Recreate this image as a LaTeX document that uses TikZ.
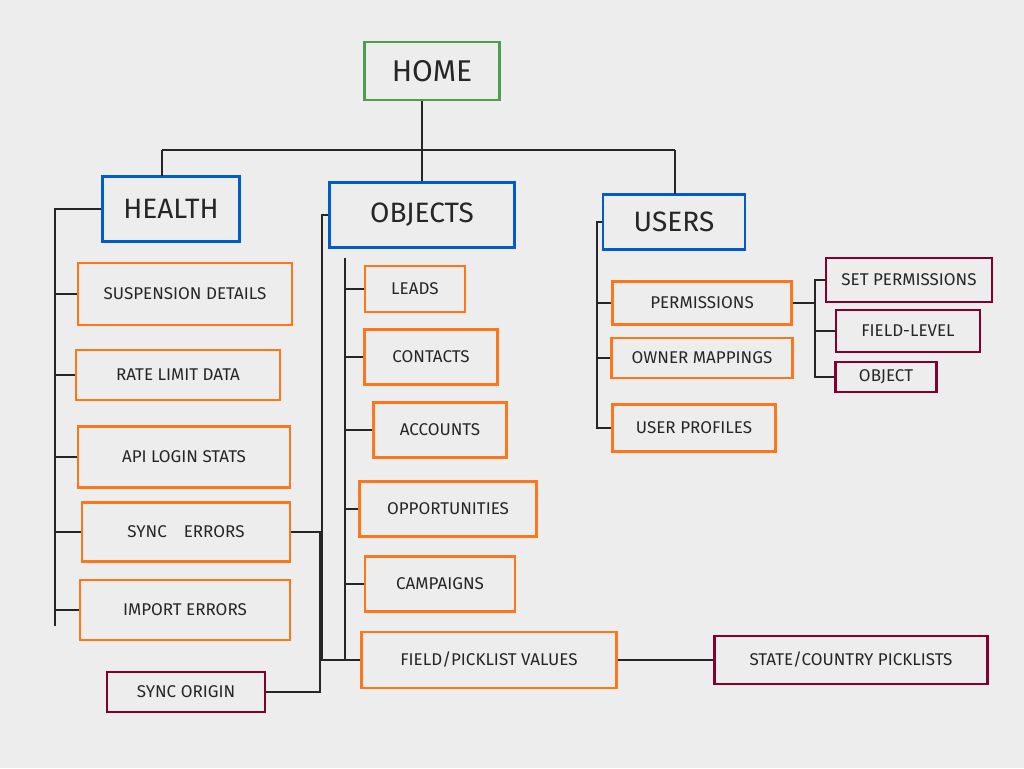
\documentclass[tikz,border=0pt]{standalone}
\usepackage{fontspec}
\setmainfont{Fira Sans}
\begin{document}
\begin{tikzpicture}[x=1pt,y=-1pt,
  bx/.style={draw,line width=2.2pt,inner sep=0pt,font=\fontsize{17}{19}\selectfont,text=black!85},
  ob/.style={bx,draw=orange!80!red!90!white},
  bb/.style={bx,draw=blue!55!cyan!80!black,font=\fontsize{28}{30}\selectfont},
  gb/.style={bx,draw=green!45!black!70,font=\fontsize{30}{32}\selectfont},
  pb/.style={bx,draw=violet!55!red!70!black},
  ln/.style={line width=2pt,draw=black!85}]
\fill[gray!14] (0,0) rectangle (1024,768);
\useasboundingbox (0,0) rectangle (1024,768);
\newcommand{\bxn}[7]{\node[#1,minimum width=#4pt,minimum height=#5pt] (#2) at (#3) {#6};}
\bxn{gb}{home}{432,71}{135}{58}{HOME}{}
\bxn{bb}{health}{171,209}{137}{65}{HEALTH}{}
\bxn{bb}{objects}{422,215}{185}{65}{OBJECTS}{}
\bxn{bb}{users}{674,222}{142}{55}{USERS}{}
\bxn{ob}{susp}{185,294}{214}{62}{SUSPENSION DETAILS}{}
\bxn{ob}{rate}{178,375}{204}{50}{RATE LIMIT DATA}{}
\bxn{ob}{api}{184,457}{212}{61}{API LOGIN STATS}{}
\bxn{ob}{sync}{186,532}{208}{59}{SYNC\quad ERRORS}{}
\bxn{ob}{imp}{185,610}{210}{60}{IMPORT ERRORS}{}
\bxn{pb}{orig}{186,692}{158}{40}{SYNC ORIGIN}{}
\bxn{ob}{leads}{415,289}{100}{46}{LEADS}{}
\bxn{ob}{cont}{431,357}{133}{55}{CONTACTS}{}
\bxn{ob}{acc}{440,430}{133}{55}{ACCOUNTS}{}
\bxn{ob}{opp}{448,509}{177}{55}{OPPORTUNITIES}{}
\bxn{ob}{camp}{440,584}{150}{55}{CAMPAIGNS}{}
\bxn{ob}{field}{489,660}{255}{56}{FIELD/PICKLIST VALUES}{}
\bxn{pb}{state}{851,660}{273}{48}{STATE/COUNTRY PICKLISTS}{}
\bxn{ob}{perm}{702,303}{179}{43}{PERMISSIONS}{}
\bxn{ob}{owner}{702,358}{181}{40}{OWNER MAPPINGS}{}
\bxn{ob}{prof}{694,428}{163}{47}{USER PROFILES}{}
\bxn{pb}{setp}{909,280}{166}{44}{SET PERMISSIONS}{}
\bxn{pb}{fl}{908,331}{144}{42}{FIELD-LEVEL}{}
\bxn{pb}{objb}{886,377}{101}{30}{OBJECT}{}
% top tree
\coordinate (t) at (422,150);
\draw[ln] (home.south -| t) -- (t);
\draw[ln] (162,150) -- (675,150);
\draw[ln] (162,150) -- (162,176);
\draw[ln] (t) -- (t |- objects.north);
\draw[ln] (675,150) -- (675,194);
% health
\draw[ln] (health.west) -- (55,209) -- (55,626);
\foreach \n in {susp,rate,api,sync,imp}{\draw[ln] (\n.west) -- (55,0 |- \n.west);}
\draw[ln] (sync.east) -- (320,0 |- sync.east) |- (orig.east);
% objects
\draw[ln] (objects.west) -- (322,0 |- objects.west) |- (field.west);
\draw[ln] (345,258) -- (345,660);
\foreach \n in {leads,cont,acc,opp,camp}{\draw[ln] (\n.west) -- (345,0 |- \n.west);}
\draw[ln] (field.east) -- (state.west);
% users
\draw[ln] (users.west) -- (597,0 |- users.west) |- (prof.west);
\foreach \n in {perm,owner}{\draw[ln] (\n.west) -- (597,0 |- \n.west);}
\draw[ln] (perm.east) -- (815,0 |- perm.east);
\draw[ln] (setp.west) -- (815,0 |- setp.west) |- (objb.west);
\draw[ln] (815,0 |- fl.west) -- (fl.west);
\end{tikzpicture}
\end{document}
